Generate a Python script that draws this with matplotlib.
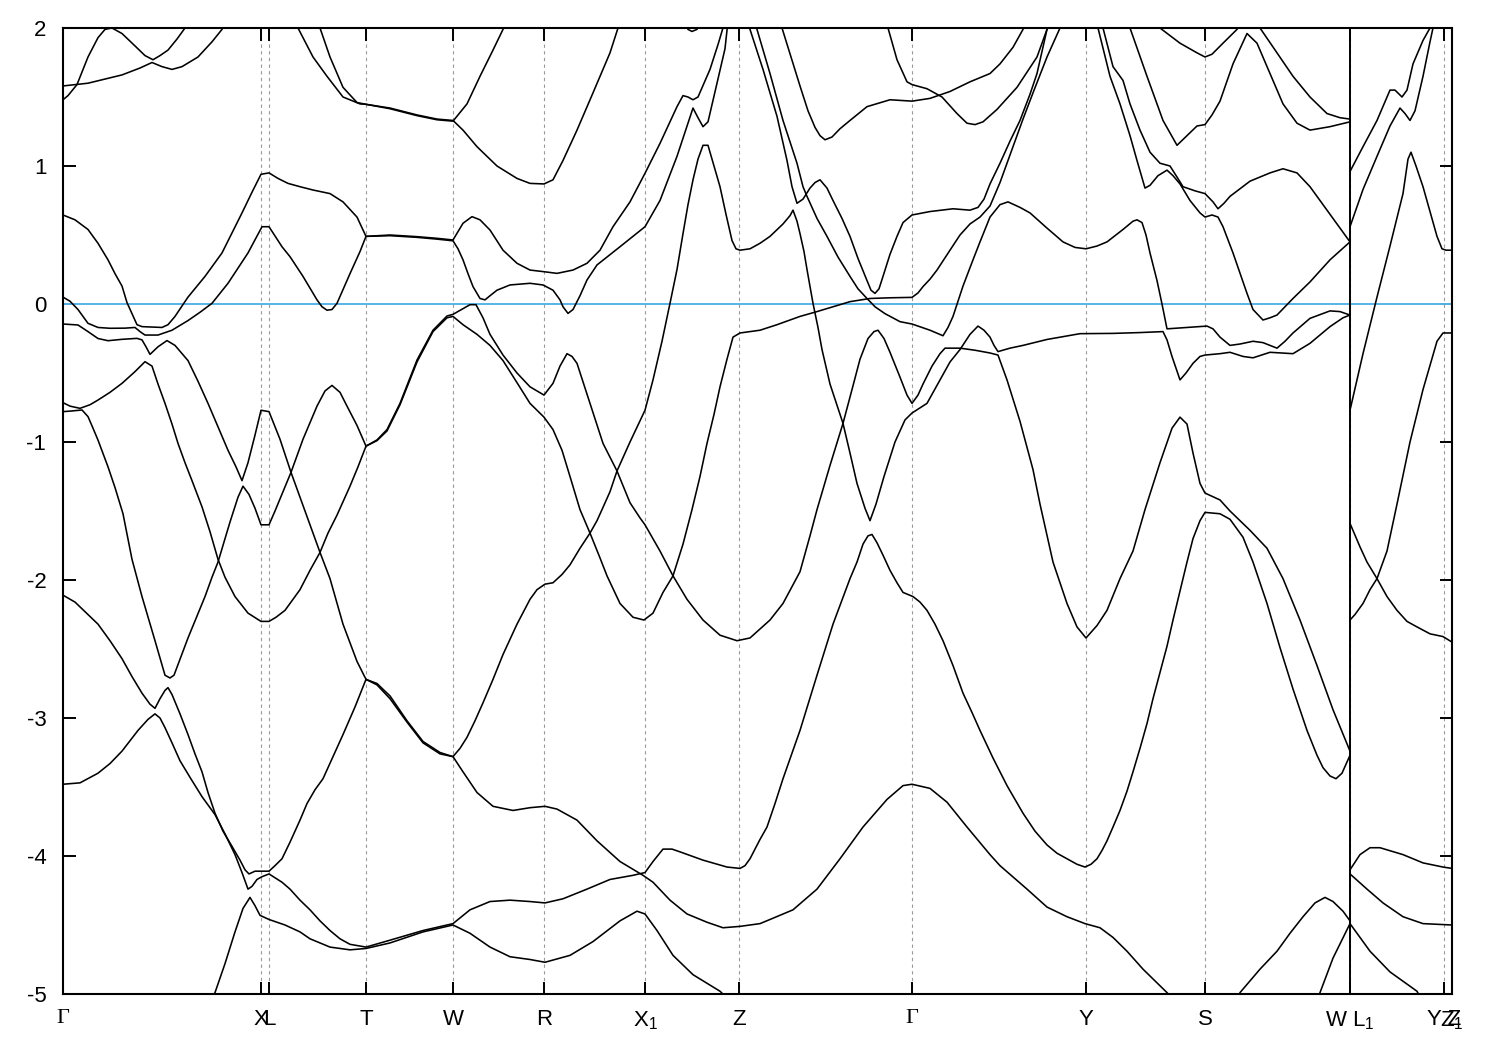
import matplotlib

matplotlib.use("Agg")
import matplotlib.pyplot as plt

# k-path positions (path length, arbitrary units) and labels
kpoints = [63, 261, 269, 366, 453, 544, 645, 739, 912, 1086, 1205, 1350, 1444, 1452]
klabels = ["Γ", "X", "L", "T", "W", "R", "X$_\\mathregular{1}$", "Z", "Γ", "Y", "S",
           "W L$_\\mathregular{1}$", "Y Z", "Z$_\\mathregular{1}$"]
k_break = 1350
e_fermi = 0.0

# bands as (k, E - E_F) in eV, traced along the path
band_a = [(63, 1.48), (68, 1.51), (77, 1.59), (88, 1.79), (98, 1.93), (105, 1.99), (112, 2.00),
          (122, 1.96), (135, 1.87), (145, 1.80), (153, 1.77), (160, 1.80), (168, 1.84),
          (177, 1.92), (186, 2.01), (190, 2.06)]
band_b = [(63, 1.58), (88, 1.60), (122, 1.66), (140, 1.71), (152, 1.75), (162, 1.72), (172, 1.70),
          (182, 1.72), (198, 1.79), (212, 1.90), (222, 1.99), (226, 2.05)]
band_c = [(63, 0.645), (75, 0.61), (88, 0.54), (98, 0.44), (108, 0.32), (115, 0.22), (122, 0.13),
          (127, 0.01), (132, -0.07), (137, -0.15), (142, -0.164), (152, -0.167), (162, -0.17),
          (168, -0.15), (175, -0.09), (188, 0.05), (205, 0.20), (222, 0.37), (242, 0.66),
          (252, 0.81), (261, 0.94), (269, 0.95), (278, 0.91), (288, 0.874), (300, 0.85),
          (313, 0.826), (330, 0.80), (343, 0.74), (357, 0.63), (366, 0.49), (390, 0.50),
          (417, 0.488), (437, 0.476), (453, 0.464), (463, 0.585), (472, 0.633), (480, 0.61),
          (490, 0.536), (503, 0.39), (517, 0.295), (530, 0.246), (544, 0.234), (557, 0.222),
          (573, 0.246), (587, 0.295), (600, 0.39), (613, 0.56), (630, 0.74), (645, 0.947),
          (660, 1.164), (677, 1.43), (683, 1.51), (688, 1.50), (693, 1.48), (698, 1.50),
          (710, 1.70), (718, 1.88), (725, 2.05)]
band_d = [(63, 0.05), (70, 0.02), (78, -0.04), (88, -0.14), (98, -0.17), (110, -0.176),
          (125, -0.175), (135, -0.17), (140, -0.20), (145, -0.225), (158, -0.225), (172, -0.19),
          (188, -0.12), (200, -0.06), (212, 0.005), (228, 0.15), (248, 0.37), (262, 0.56),
          (269, 0.56), (282, 0.415), (290, 0.343), (303, 0.20), (317, 0.03), (322, -0.02),
          (327, -0.045), (332, -0.04), (337, 0.005), (350, 0.22), (360, 0.38), (366, 0.49),
          (390, 0.495), (417, 0.483), (437, 0.47), (453, 0.458), (458, 0.40), (463, 0.32),
          (468, 0.22), (473, 0.126), (480, 0.04), (485, 0.03), (490, 0.06), (497, 0.10),
          (510, 0.138), (530, 0.15), (543, 0.138), (553, 0.10), (560, 0.03), (563, -0.02),
          (568, -0.068), (573, -0.04), (580, 0.06), (587, 0.174), (597, 0.283), (620, 0.415),
          (645, 0.56), (660, 0.75), (677, 1.07), (693, 1.42), (698, 1.35), (703, 1.285),
          (708, 1.32), (717, 1.60), (725, 1.85), (728, 2.05)]
band_e = [(63, -0.145), (78, -0.152), (88, -0.20), (98, -0.25), (108, -0.266), (122, -0.256),
          (137, -0.249), (142, -0.26), (146, -0.31), (150, -0.365), (158, -0.31), (167, -0.265),
          (175, -0.30), (188, -0.41), (198, -0.56), (208, -0.72), (218, -0.89), (228, -1.06),
          (236, -1.18), (242, -1.28), (248, -1.15), (255, -0.95), (261, -0.77), (269, -0.78),
          (280, -0.98), (291, -1.22), (300, -1.40), (310, -1.60), (320, -1.80), (330, -1.99),
          (343, -2.32), (357, -2.59), (366, -2.72), (377, -2.75), (390, -2.84), (407, -3.02),
          (423, -3.17), (440, -3.25), (453, -3.28), (463, -3.39), (477, -3.54), (493, -3.64),
          (513, -3.67), (530, -3.65), (545, -3.64), (557, -3.66), (577, -3.74), (597, -3.89),
          (620, -4.04), (643, -4.14), (653, -4.19), (670, -4.32), (687, -4.42), (707, -4.48),
          (723, -4.52), (740, -4.51), (760, -4.49), (770, -4.46), (793, -4.39), (817, -4.24),
          (840, -4.02), (863, -3.79), (887, -3.59), (903, -3.49), (912, -3.48), (930, -3.51),
          (947, -3.61), (967, -3.79), (990, -3.99), (1000, -4.07), (1027, -4.24), (1047, -4.37),
          (1067, -4.44), (1085, -4.49), (1100, -4.52), (1113, -4.59), (1127, -4.69),
          (1143, -4.82), (1167, -4.99), (1175, -5.05)]
band_f = [(63, -0.715), (70, -0.74), (80, -0.756), (90, -0.73), (98, -0.696), (110, -0.64),
          (122, -0.575), (135, -0.49), (145, -0.418), (152, -0.45), (158, -0.58), (165, -0.72),
          (172, -0.87), (178, -1.01), (185, -1.15), (192, -1.28), (202, -1.47), (210, -1.65),
          (218, -1.85), (225, -1.98), (235, -2.12), (248, -2.24), (261, -2.30), (269, -2.30),
          (276, -2.27), (285, -2.22), (292, -2.15), (300, -2.07), (310, -1.93), (320, -1.80),
          (328, -1.66), (337, -1.53), (350, -1.32), (358, -1.18), (366, -1.03), (377, -0.985),
          (387, -0.91), (400, -0.72), (417, -0.406), (433, -0.19), (447, -0.087), (453, -0.075),
          (470, -0.005), (476, -0.005), (483, -0.10), (490, -0.22), (503, -0.37), (517, -0.50),
          (530, -0.60), (544, -0.66), (553, -0.575), (560, -0.45), (567, -0.36), (572, -0.38),
          (577, -0.43), (590, -0.72), (603, -1.01), (617, -1.21), (630, -1.44), (640, -1.55),
          (645, -1.60), (660, -1.79), (673, -1.97), (687, -2.14), (703, -2.29), (720, -2.40),
          (737, -2.44), (750, -2.42), (770, -2.29), (783, -2.17), (800, -1.94), (810, -1.68),
          (817, -1.49), (830, -1.17), (843, -0.865), (852, -0.62), (860, -0.40), (868, -0.25),
          (874, -0.20), (878, -0.19), (884, -0.25), (890, -0.35), (900, -0.53), (907, -0.66),
          (912, -0.72), (918, -0.66), (923, -0.58), (932, -0.45), (940, -0.36), (945, -0.32),
          (960, -0.32), (975, -0.335), (990, -0.355), (998, -0.37), (1007, -0.55),
          (1020, -0.85), (1033, -1.20), (1040, -1.45), (1053, -1.87), (1067, -2.17),
          (1077, -2.34), (1086, -2.42), (1097, -2.33), (1107, -2.22), (1120, -1.99),
          (1133, -1.79), (1145, -1.49), (1160, -1.15), (1172, -0.90), (1180, -0.82),
          (1187, -0.87), (1193, -1.08), (1200, -1.30), (1205, -1.37), (1220, -1.42),
          (1230, -1.50), (1250, -1.64), (1267, -1.77), (1283, -1.99), (1300, -2.29),
          (1317, -2.62), (1333, -2.94), (1350, -3.24)]
band_g = [(63, -0.78), (72, -0.775), (82, -0.768), (88, -0.816), (93, -0.90), (98, -0.986),
          (108, -1.18), (115, -1.33), (123, -1.52), (132, -1.85), (142, -2.12), (155, -2.44),
          (165, -2.69), (170, -2.71), (174, -2.69), (188, -2.42), (205, -2.12), (212, -1.98),
          (218, -1.87), (230, -1.58), (238, -1.40), (243, -1.32), (249, -1.38), (255, -1.48),
          (261, -1.60), (269, -1.60), (275, -1.50), (283, -1.36), (291, -1.22), (303, -0.98),
          (317, -0.74), (325, -0.63), (332, -0.59), (340, -0.64), (347, -0.74), (357, -0.88),
          (366, -1.03), (377, -0.99), (387, -0.92), (400, -0.73), (417, -0.42), (433, -0.20),
          (447, -0.10), (453, -0.09), (463, -0.15), (477, -0.22), (490, -0.30), (503, -0.41),
          (517, -0.57), (530, -0.72), (544, -0.82), (553, -0.91), (562, -1.06), (570, -1.25),
          (580, -1.49), (590, -1.66), (600, -1.84), (607, -1.97), (620, -2.17), (633, -2.27),
          (644, -2.29), (653, -2.24), (663, -2.09), (673, -1.97), (683, -1.74), (692, -1.49),
          (700, -1.25), (707, -1.01), (714, -0.80), (720, -0.60), (727, -0.40), (733, -0.24),
          (740, -0.21), (760, -0.19), (777, -0.15), (800, -0.09), (817, -0.055), (833, -0.02),
          (850, 0.017), (870, 0.04), (890, 0.045), (912, 0.048), (918, 0.08), (923, 0.126),
          (930, 0.18), (937, 0.246), (950, 0.39), (960, 0.50), (970, 0.58), (980, 0.63),
          (990, 0.71), (1000, 0.88), (1013, 1.14), (1023, 1.34), (1033, 1.53), (1047, 1.79),
          (1060, 2.00), (1063, 2.06)]
band_h = [(63, -2.11), (75, -2.16), (85, -2.23), (98, -2.32), (110, -2.44), (122, -2.57),
          (132, -2.70), (142, -2.82), (150, -2.90), (155, -2.93), (160, -2.86), (165, -2.80),
          (168, -2.78), (172, -2.83), (180, -2.97), (188, -3.12), (195, -3.26), (202, -3.39),
          (208, -3.54), (215, -3.69), (223, -3.82), (232, -3.93), (240, -4.03), (245, -4.10),
          (249, -4.13), (255, -4.11), (269, -4.11), (275, -4.07), (282, -4.02), (290, -3.90),
          (300, -3.74), (307, -3.62), (315, -3.52), (323, -3.44), (333, -3.28), (343, -3.12),
          (355, -2.92), (366, -2.72), (377, -2.76), (390, -2.86), (407, -3.03), (423, -3.18),
          (440, -3.26), (453, -3.28), (460, -3.22), (467, -3.14), (475, -3.02), (483, -2.89),
          (493, -2.72), (503, -2.54), (517, -2.32), (530, -2.14), (537, -2.07), (545, -2.03),
          (553, -2.02), (562, -1.96), (570, -1.89), (580, -1.77), (590, -1.66), (597, -1.57),
          (602, -1.49), (610, -1.36), (617, -1.21), (630, -1.00), (645, -0.77), (653, -0.55),
          (662, -0.27), (670, 0.005), (677, 0.25), (683, 0.51), (688, 0.72), (693, 0.90),
          (698, 1.05), (703, 1.15), (708, 1.15), (714, 1.00), (720, 0.85), (726, 0.65),
          (732, 0.46), (736, 0.40), (740, 0.39), (750, 0.40), (760, 0.44), (770, 0.49),
          (783, 0.58), (790, 0.64), (793, 0.68), (797, 0.60), (800, 0.51), (804, 0.38),
          (807, 0.25), (813, 0.005), (818, -0.17), (822, -0.33), (830, -0.58), (843, -0.865),
          (850, -1.08), (857, -1.30), (865, -1.48), (870, -1.57), (876, -1.45), (884, -1.25),
          (895, -1.00), (905, -0.84), (912, -0.79), (927, -0.72), (940, -0.55), (950, -0.42),
          (960, -0.33), (970, -0.22), (978, -0.16), (984, -0.19), (990, -0.24), (994, -0.30),
          (998, -0.345), (1010, -0.32), (1023, -0.30), (1047, -0.257), (1080, -0.215),
          (1113, -0.213), (1140, -0.207), (1163, -0.20), (1167, -0.26), (1172, -0.38),
          (1180, -0.55), (1186, -0.50), (1193, -0.43), (1200, -0.38), (1205, -0.37),
          (1220, -0.36), (1230, -0.35), (1243, -0.38), (1253, -0.39), (1270, -0.35),
          (1293, -0.36), (1310, -0.285), (1330, -0.164), (1343, -0.10), (1350, -0.08)]
band_i = [(63, -3.48), (80, -3.47), (98, -3.40), (110, -3.33), (122, -3.24), (138, -3.09),
          (148, -3.01), (155, -2.97), (160, -3.00), (165, -3.07), (172, -3.18), (180, -3.31),
          (190, -3.43), (202, -3.57), (215, -3.70), (225, -3.84), (235, -3.99), (242, -4.12),
          (248, -4.24), (252, -4.22), (257, -4.17), (262, -4.15), (269, -4.13), (282, -4.19),
          (290, -4.24), (300, -4.32), (310, -4.39), (320, -4.47), (330, -4.54), (340, -4.60),
          (350, -4.64), (366, -4.66), (390, -4.61), (423, -4.54), (453, -4.49), (470, -4.39),
          (490, -4.33), (510, -4.32), (530, -4.33), (545, -4.34), (563, -4.31), (587, -4.24),
          (610, -4.17), (633, -4.14), (645, -4.12), (653, -4.04), (663, -3.95), (672, -3.95),
          (680, -3.97), (703, -4.03), (727, -4.08), (740, -4.09), (745, -4.07), (750, -4.02),
          (755, -3.95), (760, -3.88), (767, -3.79), (775, -3.62), (783, -3.44), (800, -3.09),
          (817, -2.69), (833, -2.32), (850, -1.99), (857, -1.87), (863, -1.74), (868, -1.68),
          (872, -1.67), (877, -1.73), (883, -1.82), (890, -1.93), (897, -2.02), (903, -2.09),
          (913, -2.12), (920, -2.16), (927, -2.22), (935, -2.32), (943, -2.44), (953, -2.62),
          (963, -2.82), (972, -2.96), (980, -3.09), (993, -3.29), (1007, -3.49), (1023, -3.69),
          (1035, -3.82), (1047, -3.92), (1057, -3.98), (1067, -4.02), (1077, -4.06),
          (1085, -4.08), (1091, -4.06), (1097, -4.02), (1102, -3.96), (1107, -3.89),
          (1113, -3.79), (1120, -3.67), (1127, -3.53), (1133, -3.39), (1140, -3.22),
          (1147, -3.04), (1153, -2.86), (1160, -2.67), (1167, -2.48), (1173, -2.29),
          (1180, -2.08), (1187, -1.87), (1193, -1.70), (1200, -1.57), (1205, -1.51),
          (1220, -1.52), (1230, -1.56), (1243, -1.69), (1253, -1.87), (1267, -2.17),
          (1280, -2.49), (1293, -2.79), (1307, -3.09), (1317, -3.27), (1323, -3.36),
          (1330, -3.42), (1336, -3.44), (1342, -3.40), (1350, -3.27)]
band_j = [(210, -5.05), (215, -4.99), (225, -4.78), (235, -4.55), (243, -4.38), (250, -4.30),
          (255, -4.36), (260, -4.43), (269, -4.46), (285, -4.50), (300, -4.55), (310, -4.60),
          (330, -4.66), (350, -4.68), (366, -4.67), (390, -4.63), (423, -4.55), (453, -4.50),
          (470, -4.56), (490, -4.66), (510, -4.73), (530, -4.75), (545, -4.77), (570, -4.72),
          (593, -4.62), (620, -4.47), (637, -4.40), (645, -4.42), (657, -4.54), (673, -4.72),
          (693, -4.86), (720, -4.98), (730, -5.05)]
band_k = [(297, 2.05), (298, 2.00), (313, 1.79), (327, 1.65), (343, 1.50), (360, 1.45),
          (366, 1.447), (390, 1.42), (417, 1.37), (437, 1.34), (453, 1.33), (463, 1.26),
          (477, 1.14), (497, 1.00), (517, 0.91), (530, 0.874), (544, 0.87), (553, 0.90),
          (563, 1.04), (577, 1.26), (593, 1.53), (610, 1.82), (618, 2.00), (620, 2.05)]
band_l = [(318, 2.05), (320, 2.00), (330, 1.79), (343, 1.57), (357, 1.46), (366, 1.447),
          (390, 1.415), (417, 1.365), (437, 1.335), (453, 1.325), (467, 1.45), (480, 1.65),
          (493, 1.84), (503, 1.99), (505, 2.05)]
band_m = [(684, 2.05), (688, 1.99), (692, 1.975), (697, 1.99), (701, 2.05)]
band_n = [(779, 2.05), (782, 2.00), (800, 1.58), (808, 1.40), (815, 1.28), (820, 1.22),
          (825, 1.19), (832, 1.21), (840, 1.27), (850, 1.33), (867, 1.43), (890, 1.48),
          (912, 1.47), (930, 1.49), (950, 1.54), (970, 1.61), (990, 1.67), (1000, 1.74),
          (1013, 1.86), (1023, 1.99), (1025, 2.05)]
band_o = [(886, 2.05), (888, 2.00), (897, 1.77), (907, 1.61), (912, 1.59), (927, 1.56),
          (942, 1.50), (957, 1.38), (967, 1.31), (975, 1.30), (983, 1.32), (997, 1.41),
          (1017, 1.57), (1037, 1.79), (1047, 1.99), (1049, 2.05)]
band_p = [(747, 2.05), (750, 1.99), (763, 1.70), (777, 1.36), (787, 1.04), (792, 0.85),
          (797, 0.73), (803, 0.76), (810, 0.84), (815, 0.88), (820, 0.90), (827, 0.84),
          (833, 0.75), (842, 0.62), (850, 0.49), (858, 0.33), (867, 0.17), (871, 0.10),
          (875, 0.077), (879, 0.11), (883, 0.20), (890, 0.36), (897, 0.49), (903, 0.59),
          (912, 0.645), (930, 0.67), (953, 0.69), (970, 0.68), (978, 0.70), (984, 0.76),
          (990, 0.87), (1000, 1.02), (1010, 1.18), (1020, 1.33), (1030, 1.52), (1037, 1.67),
          (1047, 1.99), (1049, 2.05)]
band_q = [(754, 2.05), (757, 1.99), (770, 1.67), (783, 1.33), (797, 1.02), (803, 0.85),
          (807, 0.78), (812, 0.70), (817, 0.62), (827, 0.49), (838, 0.34), (850, 0.20),
          (858, 0.11), (867, 0.04), (875, -0.02), (885, -0.07), (900, -0.128), (912, -0.145),
          (930, -0.19), (943, -0.23), (948, -0.17), (953, -0.09), (958, 0.02), (963, 0.13),
          (973, 0.32), (980, 0.45), (990, 0.63), (1000, 0.72), (1008, 0.74), (1020, 0.70),
          (1030, 0.66), (1047, 0.55), (1063, 0.45), (1075, 0.41), (1086, 0.40), (1097, 0.42),
          (1107, 0.45), (1123, 0.54), (1133, 0.60), (1137, 0.61), (1142, 0.59), (1146, 0.50),
          (1150, 0.37), (1157, 0.17), (1162, 0.00), (1167, -0.18), (1187, -0.17),
          (1207, -0.16), (1213, -0.18), (1220, -0.24), (1230, -0.30), (1240, -0.29),
          (1253, -0.27), (1263, -0.28), (1277, -0.32), (1285, -0.27), (1293, -0.21),
          (1310, -0.104), (1330, -0.05), (1340, -0.055), (1350, -0.08)]
band_r = [(1158, 2.05), (1160, 2.00), (1180, 1.89), (1197, 1.82), (1205, 1.79), (1212, 1.81),
          (1223, 1.89), (1237, 1.99), (1240, 2.05)]
band_s = [(1128, 2.05), (1130, 2.00), (1147, 1.65), (1163, 1.33), (1177, 1.15), (1187, 1.22),
          (1197, 1.29), (1205, 1.30), (1212, 1.37), (1220, 1.47), (1233, 1.74), (1247, 1.96),
          (1257, 1.89), (1270, 1.67), (1283, 1.45), (1297, 1.31), (1310, 1.26), (1330, 1.285),
          (1350, 1.32)]
band_t = [(1097, 2.05), (1098, 2.00), (1110, 1.65), (1120, 1.45), (1130, 1.22), (1137, 1.04),
          (1145, 0.84), (1150, 0.86), (1158, 0.93), (1167, 0.97), (1173, 0.93), (1180, 0.87),
          (1190, 0.75), (1200, 0.66), (1205, 0.63), (1212, 0.645), (1218, 0.63), (1223, 0.56),
          (1233, 0.37), (1247, 0.077), (1253, -0.04), (1263, -0.116), (1270, -0.10),
          (1277, -0.08), (1293, 0.04), (1310, 0.16), (1330, 0.32), (1350, 0.45)]
band_u = [(1102, 2.05), (1103, 2.00), (1113, 1.72), (1123, 1.62), (1130, 1.45), (1140, 1.26),
          (1150, 1.10), (1160, 1.02), (1170, 1.00), (1177, 0.92), (1183, 0.85), (1195, 0.82),
          (1205, 0.80), (1213, 0.74), (1218, 0.69), (1224, 0.73), (1230, 0.78), (1250, 0.89),
          (1270, 0.95), (1283, 0.98), (1297, 0.95), (1310, 0.85), (1327, 0.68), (1350, 0.45)]
band_v = [(1258, 2.05), (1260, 2.00), (1277, 1.82), (1293, 1.65), (1310, 1.50), (1327, 1.38),
          (1340, 1.35), (1350, 1.34)]
band_w = [(1350, 0.96), (1363, 1.14), (1377, 1.33), (1390, 1.55), (1395, 1.55), (1402, 1.50),
          (1407, 1.55), (1413, 1.74), (1423, 1.91), (1430, 2.00), (1432, 2.05)]
band_x = [(1350, 0.56), (1363, 0.83), (1377, 1.07), (1390, 1.29), (1400, 1.42), (1405, 1.38),
          (1410, 1.33), (1415, 1.40), (1423, 1.65), (1430, 1.90), (1433, 2.00), (1434, 2.05)]
band_y = [(1350, -0.77), (1363, -0.36), (1377, 0.05), (1390, 0.42), (1403, 0.80), (1408, 1.05),
          (1411, 1.10), (1416, 1.00), (1423, 0.85), (1437, 0.49), (1442, 0.40), (1446, 0.39),
          (1452, 0.39)]
band_z = [(1350, -1.59), (1360, -1.76), (1367, -1.87), (1377, -1.99), (1387, -2.12),
          (1397, -2.22), (1407, -2.30), (1417, -2.34), (1430, -2.39), (1443, -2.41),
          (1452, -2.45)]
band_aa = [(1350, -2.29), (1355, -2.25), (1363, -2.17), (1370, -2.07), (1377, -1.99),
           (1387, -1.79), (1397, -1.45), (1410, -1.00), (1423, -0.62), (1437, -0.27),
           (1443, -0.21), (1452, -0.21)]
band_ab = [(1350, -4.10), (1360, -3.99), (1370, -3.94), (1380, -3.94), (1403, -3.99),
           (1423, -4.05), (1443, -4.08), (1452, -4.09)]
band_ac = [(1350, -4.13), (1367, -4.24), (1383, -4.34), (1403, -4.44), (1423, -4.49),
           (1452, -4.50)]
band_ad = [(1317, -5.05), (1320, -4.99), (1333, -4.74), (1350, -4.49), (1370, -4.69),
           (1390, -4.84), (1417, -4.98), (1422, -5.05)]
band_ae = [(1238, -5.05), (1240, -4.99), (1260, -4.82), (1277, -4.69), (1290, -4.56),
           (1303, -4.44), (1315, -4.34), (1325, -4.30), (1333, -4.33), (1343, -4.40),
           (1350, -4.47)]

bands = [band_a, band_b, band_c, band_d, band_e, band_f, band_g, band_h, band_i, band_j,
         band_k, band_l, band_m, band_n, band_o, band_p, band_q, band_r, band_s, band_t,
         band_u, band_v, band_w, band_x, band_y, band_z, band_aa, band_ab, band_ac, band_ad,
         band_ae]

plt.rcParams["font.family"] = ["Liberation Sans", "DejaVu Sans"]
plt.rcParams["mathtext.fontset"] = "custom"
plt.rcParams["mathtext.rm"] = "Liberation Sans"

fig = plt.figure(figsize=(15, 10.5), dpi=100)
ax = fig.add_axes([63 / 1500, 1 - 994 / 1050, (1452 - 63) / 1500, (994 - 28) / 1050])

for k in kpoints[1:-1]:
    ax.axvline(k, color="#9a9a9a", lw=0.8, ls=(0, (3, 3)), zorder=1)
ax.axvline(k_break, color="black", lw=1.4, zorder=3)
ax.axhline(e_fermi, color="#56b4e9", lw=1.4, zorder=2)

for band in bands:
    ks, es = zip(*band)
    ax.plot(ks, es, color="black", lw=1.15, solid_joinstyle="round", zorder=4)

ax.set_xlim(kpoints[0], kpoints[-1])
ax.set_ylim(-5, 2)
ax.set_yticks(range(-5, 3))
ax.set_yticklabels([str(v) for v in range(-5, 3)])
ax.set_xticks(kpoints)
ax.set_xticklabels(klabels)
for lab in ax.get_xticklabels():
    if lab.get_text() == "Γ":
        lab.set_fontfamily(["Liberation Serif", "DejaVu Serif"])

ax.tick_params(axis="both", direction="in", length=9, width=1.4, labelsize=16,
               top=True, right=True)
ax.tick_params(axis="y", pad=12)
ax.tick_params(axis="x", pad=11)
for sp in ax.spines.values():
    sp.set_linewidth(1.5)

fig.savefig("out.png", dpi=100)
